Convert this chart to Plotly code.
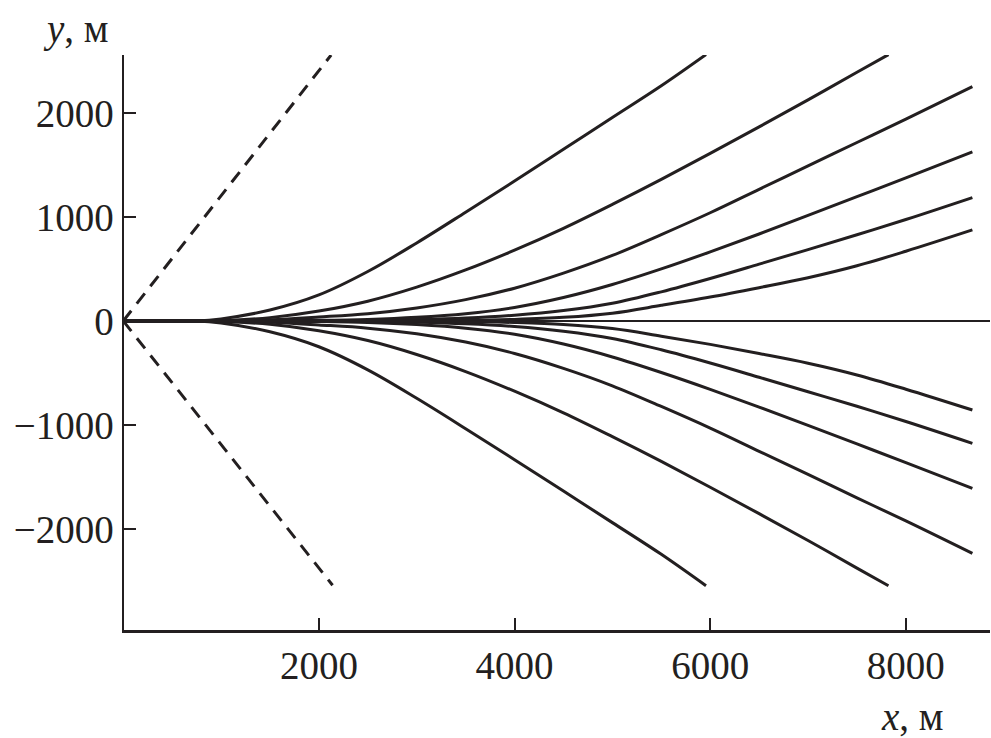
import plotly.graph_objects as go

# ---- data ----
# upper family of trajectories
up1_x = [0, 750, 1000, 1500, 2000, 2500, 3000, 3500, 4000, 4500, 5000, 5500, 5957]
up1_y = [0, 0, 20, 105, 250, 475, 750, 1045, 1345, 1650, 1955, 2260, 2560]

up2_x = [0, 750, 1000, 1500, 2000, 2500, 3000, 3500, 4000, 4500, 5000, 5500, 6000, 6500, 7000, 7500, 7822]
up2_y = [0, 0, 4, 32, 95, 190, 325, 490, 680, 890, 1120, 1360, 1610, 1865, 2125, 2390, 2560]

up3_x = [0, 750, 1000, 1500, 2000, 2500, 3000, 3500, 4000, 4500, 5000, 5500, 6000, 6500, 7000, 7500, 8000, 8680]
up3_y = [0, 0, 2, 12, 38, 70, 125, 205, 315, 460, 630, 830, 1040, 1265, 1490, 1715, 1940, 2253]

up4_x = [0, 750, 1000, 1500, 2000, 2500, 3000, 3500, 4000, 4500, 5000, 5500, 6000, 6500, 7000, 7500, 8000, 8680]
up4_y = [0, 0, 0, 2, 6, 15, 35, 70, 130, 225, 350, 500, 664, 836, 1014, 1194, 1376, 1625]

up5_x = [0, 750, 1000, 1500, 2000, 2500, 3000, 3500, 4000, 4500, 5000, 5500, 6000, 6500, 7000, 7500, 8000, 8680]
up5_y = [0, 0, 0, 1, 2, 5, 13, 28, 55, 100, 170, 280, 408, 546, 686, 828, 975, 1186]

up6_x = [0, 750, 1000, 1500, 2000, 2500, 3000, 3500, 4000, 4500, 5000, 5500, 6000, 6500, 7000, 7500, 8000, 8680]
up6_y = [0, 0, 0, 0, 1, 1, 2, 5, 15, 35, 75, 150, 230, 320, 415, 530, 670, 875]

# lower family of trajectories
lo1_x = [0, 750, 1000, 1500, 2000, 2500, 3000, 3500, 4000, 4500, 5000, 5500, 5957]
lo1_y = [0, 0, -20, -104, -248, -470, -743, -1035, -1333, -1635, -1938, -2243, -2545]

lo2_x = [0, 750, 1000, 1500, 2000, 2500, 3000, 3500, 4000, 4500, 5000, 5500, 6000, 6500, 7000, 7500, 7822]
lo2_y = [0, 0, -4, -32, -94, -188, -322, -486, -675, -883, -1112, -1350, -1598, -1852, -2110, -2375, -2545]

lo3_x = [0, 750, 1000, 1500, 2000, 2500, 3000, 3500, 4000, 4500, 5000, 5500, 6000, 6500, 7000, 7500, 8000, 8680]
lo3_y = [0, 0, -2, -12, -38, -69, -123, -203, -312, -455, -623, -822, -1030, -1253, -1475, -1700, -1922, -2234]

lo4_x = [0, 750, 1000, 1500, 2000, 2500, 3000, 3500, 4000, 4500, 5000, 5500, 6000, 6500, 7000, 7500, 8000, 8680]
lo4_y = [0, 0, 0, -2, -6, -15, -35, -69, -128, -222, -346, -495, -657, -828, -1004, -1182, -1362, -1609]

lo5_x = [0, 750, 1000, 1500, 2000, 2500, 3000, 3500, 4000, 4500, 5000, 5500, 6000, 6500, 7000, 7500, 8000, 8680]
lo5_y = [0, 0, 0, -1, -2, -5, -13, -28, -54, -99, -168, -277, -404, -541, -680, -820, -966, -1176]

lo6_x = [0, 750, 1000, 1500, 2000, 2500, 3000, 3500, 4000, 4500, 5000, 5500, 6000, 6500, 7000, 7500, 8000, 8680]
lo6_y = [0, 0, 0, 0, -1, -1, -2, -5, -15, -34, -73, -146, -225, -313, -406, -519, -656, -856]

# dashed boundary lines
dash_up_x = [0, 2125]
dash_up_y = [0, 2556]
dash_lo_x = [0, 2140]
dash_lo_y = [0, -2540]

x_ticks = [2000, 4000, 6000, 8000]
x_tick_text = ["2000", "4000", "6000", "8000"]
y_ticks = [-2000, -1000, 0, 1000, 2000]
y_tick_text = ["\u22122000", "\u22121000", "0", "1000", "2000"]

x_title = "<i>x</i>, м"
y_title = "<i>y</i>, м"

INK = "#231f20"
FONT = "Liberation Serif"

fig = go.Figure()

solid = [(up1_x, up1_y), (up2_x, up2_y), (up3_x, up3_y), (up4_x, up4_y),
         (up5_x, up5_y), (up6_x, up6_y), (lo1_x, lo1_y), (lo2_x, lo2_y),
         (lo3_x, lo3_y), (lo4_x, lo4_y), (lo5_x, lo5_y), (lo6_x, lo6_y)]
for xs, ys in solid:
    fig.add_trace(go.Scatter(x=xs, y=ys, mode="lines",
                             line=dict(color=INK, width=3, shape="spline", smoothing=1.0),
                             showlegend=False, hoverinfo="skip"))

for xs, ys in [(dash_up_x, dash_up_y), (dash_lo_x, dash_lo_y)]:
    fig.add_trace(go.Scatter(x=xs, y=ys, mode="lines",
                             line=dict(color=INK, width=3, dash="13px,9px"),
                             showlegend=False, hoverinfo="skip"))

fig.update_layout(
    width=991, height=738,
    margin=dict(l=124, r=1, t=55, b=108, autoexpand=False),
    paper_bgcolor="white", plot_bgcolor="white",
    font=dict(family=FONT, size=39, color=INK),
    showlegend=False,
)
fig.update_xaxes(
    range=[8, 8860], showgrid=False, zeroline=False, automargin=False,
    showline=True, linecolor=INK, linewidth=2.5,
    ticks="inside", ticklen=12, tickwidth=2, tickcolor=INK,
    tickvals=x_ticks, ticktext=x_tick_text,
    tickfont=dict(family=FONT, size=39, color=INK),
)
fig.update_yaxes(
    range=[-2970, 2556], showgrid=False, automargin=False,
    zeroline=True, zerolinecolor=INK, zerolinewidth=1.5,
    showline=True, linecolor=INK, linewidth=2.5,
    ticks="inside", ticklen=12, tickwidth=2, tickcolor=INK,
    tickvals=y_ticks, ticktext=y_tick_text,
    tickfont=dict(family=FONT, size=39, color=INK),
)

fig.add_annotation(text=y_title, xref="paper", yref="paper", x=-0.056, y=1.0,
                   xanchor="center", yanchor="middle", yshift=26, showarrow=False,
                   font=dict(family=FONT, size=39, color=INK))
fig.add_annotation(text=x_title, xref="paper", yref="paper", x=0.91, y=0,
                   xanchor="center", yanchor="middle", yshift=-86, showarrow=False,
                   font=dict(family=FONT, size=39, color=INK))

fig.write_html("out.html",
               config={"displayModeBar": False, "staticPlot": True},
               post_script="document.body.style.margin='0px';document.body.style.overflow='hidden';")
